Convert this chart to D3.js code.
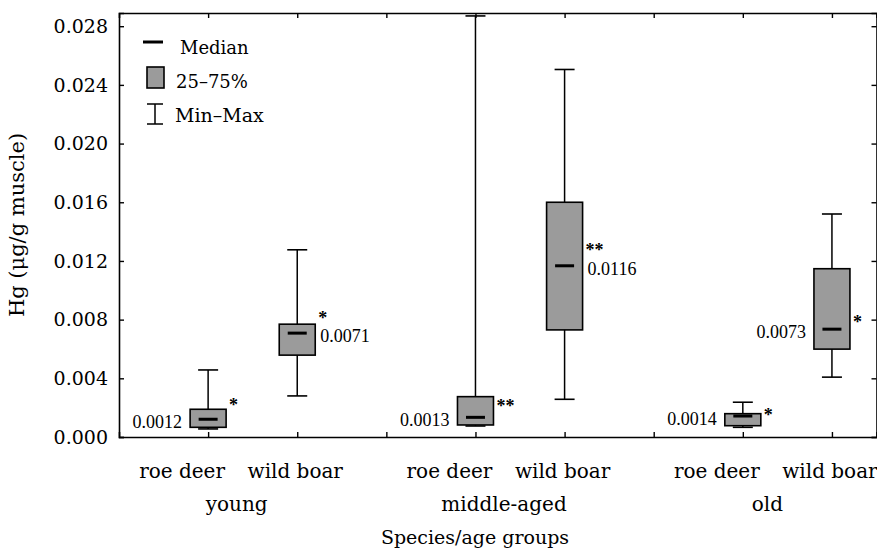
<!DOCTYPE html>
<html>
<head>
<meta charset="utf-8">
<script src="https://cdn.jsdelivr.net/npm/d3@7"></script>
<style>
  body { margin: 0; background: #fff; }
  svg { display: block; }
  text { font-family: "DejaVu Serif", serif; fill: #000; }
  .note { font-family: "Liberation Serif", serif; }
</style>
</head>
<body>
<div class="chart-container"></div>
<script>
const width = 877;
const height = 549;

// data
const species = ["roe deer", "wild boar", "roe deer", "wild boar", "roe deer", "wild boar"];
const positions = [1, 2, 4, 5, 7, 8];
const groups = ["young", "middle-aged", "old"];
const groupCentres = [1.5, 4.5, 7.5];

const mins    = [0.00055, 0.00280, 0.00075, 0.00257, 0.00066, 0.00408];
const q1s     = [0.00066, 0.00558, 0.00082, 0.00730, 0.00077, 0.00599];
const medians = [0.00121, 0.00708, 0.00134, 0.01167, 0.00143, 0.00735];
const q3s     = [0.00189, 0.00769, 0.00275, 0.01600, 0.00159, 0.01147];
const maxs    = [0.00457, 0.01276, 0.02870, 0.02505, 0.00237, 0.01520];

const medianLabels = ["0.0012", "0.0071", "0.0013", "0.0116", "0.0014", "0.0073"];
const labelSide = ["left", "right", "left", "right", "left", "left"];
const stars = ["*", "*", "**", "**", "*", "*"];
const starAt = [0.00241, 0.00833, 0.00234, 0.01295, 0.00173, 0.00805];

const yTicks = [0, 0.004, 0.008, 0.012, 0.016, 0.020, 0.024, 0.028];
const xTicks = [1, 2, 3, 4, 5, 6, 7, 8];

const margin = {top: 13, right: 0.5, bottom: 112, left: 119};
const boxWidth = 36;
const capWidth = 20;
const medWidth = 19;
const boxFill = "#9b9b9b";

const svg = d3.select(".chart-container").append("svg")
    .attr("width", width)
    .attr("height", height);

const x = d3.scaleLinear()
    .domain([0, 8.5])
    .range([margin.left, width - margin.right]);

const y = d3.scaleLinear()
    .domain([0, 0.0289])
    .range([height - margin.bottom, margin.top]);

const fmt = d3.format(".3f");

// axes, ticks all pointing inward
const leftAxis = svg.append("g")
    .attr("transform", `translate(${x(0)},0)`)
    .call(d3.axisRight(y).tickValues(yTicks).tickSize(5).tickFormat(""));
const rightAxis = svg.append("g")
    .attr("transform", `translate(${x(8.5)},0)`)
    .call(d3.axisLeft(y).tickValues(yTicks).tickSize(5).tickFormat(""));
const bottomAxis = svg.append("g")
    .attr("transform", `translate(0,${y(0)})`)
    .call(d3.axisTop(x).tickValues(xTicks).tickSize(5).tickFormat(""));
const topAxis = svg.append("g")
    .attr("transform", `translate(0,${y(0.0289)})`)
    .call(d3.axisBottom(x).tickValues(xTicks).tickSize(5).tickFormat(""));

[leftAxis, rightAxis, bottomAxis, topAxis].forEach(a => {
    a.select(".domain").attr("stroke", "#000").attr("stroke-width", 1.6);
    a.selectAll(".tick line").attr("stroke", "#000").attr("stroke-width", 1.4);
});

// y tick labels
svg.append("g").selectAll("text")
    .data(yTicks)
    .join("text")
    .attr("x", x(0) - 11)
    .attr("y", d => y(d))
    .attr("dy", "0.36em")
    .attr("text-anchor", "end")
    .attr("font-size", 19)
    .text(d => fmt(d));

// y label
svg.append("text")
    .attr("transform", `translate(24,${(y(0) + y(0.0289)) / 2}) rotate(-90)`)
    .attr("text-anchor", "middle")
    .attr("font-size", 21)
    .text("Hg (μg/g muscle)");

// category labels
svg.append("g").selectAll("text")
    .data(species)
    .join("text")
    .attr("x", (d, i) => x(positions[i]) + (d === "roe deer" ? -26 : -2))
    .attr("y", 478)
    .attr("text-anchor", "middle")
    .attr("font-size", 20)
    .text(d => d);

svg.append("g").selectAll("text")
    .data(groups)
    .join("text")
    .attr("x", (d, i) => x(groupCentres[i]) - (i === 2 ? 20 : 16))
    .attr("y", 511)
    .attr("text-anchor", "middle")
    .attr("font-size", 20)
    .text(d => d);

svg.append("text")
    .attr("x", 475)
    .attr("y", 544)
    .attr("text-anchor", "middle")
    .attr("font-size", 19)
    .text("Species/age groups");

// boxes
const boxes = svg.append("g").selectAll("g")
    .data(species.map((s, i) => i))
    .join("g");

boxes.append("line")
    .attr("x1", i => x(positions[i])).attr("x2", i => x(positions[i]))
    .attr("y1", i => y(mins[i])).attr("y2", i => y(maxs[i]))
    .attr("stroke", "#000").attr("stroke-width", 1.5);

boxes.append("line")
    .attr("x1", i => x(positions[i]) - capWidth / 2).attr("x2", i => x(positions[i]) + capWidth / 2)
    .attr("y1", i => y(maxs[i])).attr("y2", i => y(maxs[i]))
    .attr("stroke", "#000").attr("stroke-width", 1.6);

boxes.append("line")
    .attr("x1", i => x(positions[i]) - capWidth / 2).attr("x2", i => x(positions[i]) + capWidth / 2)
    .attr("y1", i => y(mins[i])).attr("y2", i => y(mins[i]))
    .attr("stroke", "#000").attr("stroke-width", 1.6);

boxes.append("rect")
    .attr("x", i => x(positions[i]) - boxWidth / 2)
    .attr("y", i => y(q3s[i]))
    .attr("width", boxWidth)
    .attr("height", i => y(q1s[i]) - y(q3s[i]))
    .attr("fill", boxFill)
    .attr("stroke", "#000").attr("stroke-width", 1.6);

boxes.append("line")
    .attr("x1", i => x(positions[i]) - medWidth / 2).attr("x2", i => x(positions[i]) + medWidth / 2)
    .attr("y1", i => y(medians[i])).attr("y2", i => y(medians[i]))
    .attr("stroke", "#000").attr("stroke-width", 3);

// median values and significance stars
boxes.append("text")
    .attr("class", "note")
    .attr("x", i => labelSide[i] === "left"
        ? x(positions[i]) - boxWidth / 2 - 8
        : x(positions[i]) + boxWidth / 2 + 5)
    .attr("y", i => y(medians[i]) + 9)
    .attr("text-anchor", i => labelSide[i] === "left" ? "end" : "start")
    .attr("font-size", 18)
    .text(i => medianLabels[i]);

boxes.append("text")
    .attr("class", "note")
    .attr("x", i => x(positions[i]) + boxWidth / 2 + 3)
    .attr("y", i => y(starAt[i]) + 9)
    .attr("font-size", 18)
    .attr("font-weight", "bold")
    .text(i => stars[i]);

// legend
const legend = svg.append("g");
legend.append("line")
    .attr("x1", 143).attr("x2", 163).attr("y1", 42).attr("y2", 42)
    .attr("stroke", "#000").attr("stroke-width", 3);
legend.append("text").attr("x", 180).attr("y", 54).attr("font-size", 18).text("Median");

legend.append("rect")
    .attr("x", 147).attr("y", 67).attr("width", 17).attr("height", 21)
    .attr("fill", boxFill).attr("stroke", "#000").attr("stroke-width", 1.6);
legend.append("text").attr("x", 176).attr("y", 88).attr("font-size", 18).text("25–75%");

legend.append("path")
    .attr("d", "M147,104H163M155,104V124M147,124H163")
    .attr("fill", "none").attr("stroke", "#000").attr("stroke-width", 1.5);
legend.append("text").attr("x", 175).attr("y", 122).attr("font-size", 19).text("Min–Max");
</script>
</body>
</html>
